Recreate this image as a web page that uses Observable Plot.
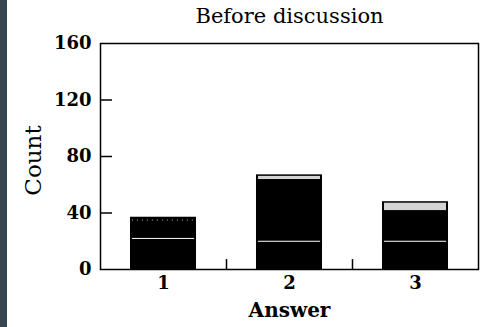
<!DOCTYPE html>
<html><head><meta charset="utf-8">
<script src="https://cdn.jsdelivr.net/npm/d3@7"></script>
<script src="https://cdn.jsdelivr.net/npm/@observablehq/plot@0.6"></script>
<style>
html,body{margin:0;padding:0;background:#fff;}
#wrap{position:relative;width:483px;height:327px;overflow:hidden;}
#strip{position:absolute;left:0;top:0;width:7px;height:327px;background:#38474f;}
</style></head><body><div id="wrap"><div id="chart"></div><div id="strip"></div></div>
<script>
const answers = [1, 2, 3];
const lowerCounts = [22, 20, 20];
const middleCounts = [13, 43, 21];
const upperCounts = [2, 4, 7];
const yTicks = [0, 40, 80, 120, 160];
const title = "Before discussion";
const xLabel = "Answer";
const yLabel = "Count";

const rows = answers.map((a, i) => ({
  a,
  b1: lowerCounts[i],
  b2: lowerCounts[i] + middleCounts[i],
  b3: lowerCounts[i] + middleCounts[i] + upperCounts[i]
}));
const half = 0.262;
const font = "'DejaVu Serif', 'Liberation Serif', serif";

const chart = Plot.plot({
  width: 483, height: 327,
  marginTop: 43, marginBottom: 58, marginLeft: 100, marginRight: 5,
  style: {fontFamily: font, fontSize: "18px", color: "black", background: "white"},
  x: {domain: [0.5, 3.5], label: null},
  y: {domain: [0, 160], label: null},
  marks: [
    Plot.rectY(rows, {x1: d => d.a - half, x2: d => d.a + half, y1: 0, y2: "b3", fill: "black"}),
    Plot.rectY(rows.filter(d => d.a !== 1), {x1: d => d.a - half, x2: d => d.a + half, y1: "b2", y2: "b3", fill: "#d4d4d4", insetLeft: 2, insetRight: 2, insetTop: 1.5, insetBottom: 1}),
    Plot.ruleY(rows, {x1: d => d.a - half + 0.015, x2: d => d.a + half - 0.015, y: "b1", stroke: "white", strokeWidth: 1}),
    Plot.ruleY(rows.filter(d => d.a === 1), {x1: d => d.a - half + 0.015, x2: d => d.a + half - 0.015, y: "b2", stroke: "white", strokeWidth: 1, strokeDasharray: "1,4", strokeOpacity: 0.7}),
    Plot.frame({stroke: "black", strokeWidth: 1.5}),
    Plot.ruleY(yTicks.slice(1, -1), {x1: 0.5, x2: 0.595, stroke: "black", strokeWidth: 1.5}),
    Plot.ruleX([1.5, 2.5], {y1: 0, y2: 7, stroke: "black", strokeWidth: 1.5}),
    Plot.axisY({ticks: yTicks, tickSize: 0, tickPadding: 9, label: null, fontSize: 18, fontWeight: "bold"}),
    Plot.axisX({ticks: answers, tickSize: 0, tickPadding: 7, label: null, fontSize: 18, fontWeight: "bold", tickFormat: d => String(d)}),
    Plot.text([title], {text: d => d, frameAnchor: "top", dy: -35, fontSize: 21}),
    Plot.text([yLabel], {text: d => d, frameAnchor: "left", textAnchor: "middle", dx: -67, dy: 4, rotate: -90, fontSize: 23}),
    Plot.text([xLabel], {text: d => d, frameAnchor: "bottom", dy: 47, fontSize: 20, fontWeight: "bold"})
  ]
});
document.getElementById("chart").appendChild(chart);
</script></body></html>
